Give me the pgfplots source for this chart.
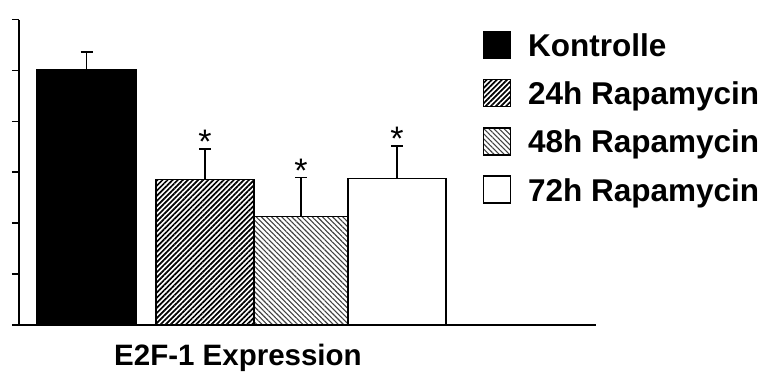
\documentclass[border=0pt]{standalone}
\usepackage{fontspec}
\setmainfont{Liberation Sans}
\usepackage{pgfplots}
\pgfplotsset{compat=1.18}
\usetikzlibrary{patterns.meta}
\begin{document}
\begin{tikzpicture}
\path[use as bounding box] (0pt,0pt) rectangle (764pt,373pt);
\begin{axis}[
  at={(19pt,48pt)}, anchor=south west,
  scale only axis, width=577pt, height=305.5pt,
  xmin=19, xmax=596, ymin=0, ymax=6,
  axis x line*=bottom, axis y line*=left,
  axis line style={line width=2pt,-},
  xtick=\empty,
  ytick={0,1,2,3,4,5,6}, yticklabels={},
  tick align=outside, major tick length=7pt,
  ytick style={line width=1.6pt,black},
  clip=false,
  xlabel={E2F-1 Expression},
  xlabel style={at={(axis description cs:0.3795,0)}, anchor=base, yshift=-40pt,
    font=\fontsize{29.5}{31}\selectfont\bfseries},
  legend style={at={(axis description cs:0.804,0.962)}, anchor=north west,
    draw=none, fill=none, inner sep=0pt, outer sep=0pt,
    font=\fontsize{31.5}{33}\selectfont\bfseries,
    nodes={inner sep=0pt, text height=24pt, text depth=6pt, anchor=base west},
    column sep=17pt, row sep=16.5pt},
  legend cell align=left,
  legend image code/.code={\draw[#1,draw=black,line width=1.2pt] (0pt,-2pt) rectangle (27pt,25pt);},
  error bars/y dir=plus, error bars/y explicit,
  error bars/error bar style={line width=1.5pt,black},
  error bars/error mark options={line width=1.5pt,black,mark size=6pt,rotate=90},
]
\addplot[ybar, bar shift=0pt, bar width=99, fill=black, draw=black, line width=1.2pt]
  coordinates {(86.5,5.01) +- (0,0.35)};
\addlegendentry{Kontrolle}
\addplot[ybar, bar shift=0pt, bar width=98, draw=black, line width=1.2pt,
  pattern={Lines[angle=45,distance=3.6pt,line width=1.7pt]}, pattern color=black]
  coordinates {(205,2.85) +- (0,0.61)};
\addlegendentry{24h Rapamycin}
\addplot[ybar, bar shift=0pt, bar width=94, draw=black, line width=1.2pt,
  pattern={Lines[angle=-45,distance=3.6pt,line width=1.1pt]}, pattern color=black!75]
  coordinates {(301,2.13) +- (0,0.77)};
\addlegendentry{48h Rapamycin}
\addplot[ybar, bar shift=0pt, bar width=98, draw=black, line width=1.2pt, fill=white]
  coordinates {(397,2.87) +- (0,0.65)};
\addlegendentry{72h Rapamycin}
\node[anchor=base, yshift=-5pt, font=\fontsize{34}{36}\selectfont] at (axis cs:205,3.46) {*};
\node[anchor=base, yshift=-5pt, font=\fontsize{34}{36}\selectfont] at (axis cs:301,2.90) {*};
\node[anchor=base, yshift=-5pt, font=\fontsize{34}{36}\selectfont] at (axis cs:397,3.52) {*};
\end{axis}
\end{tikzpicture}
\end{document}
